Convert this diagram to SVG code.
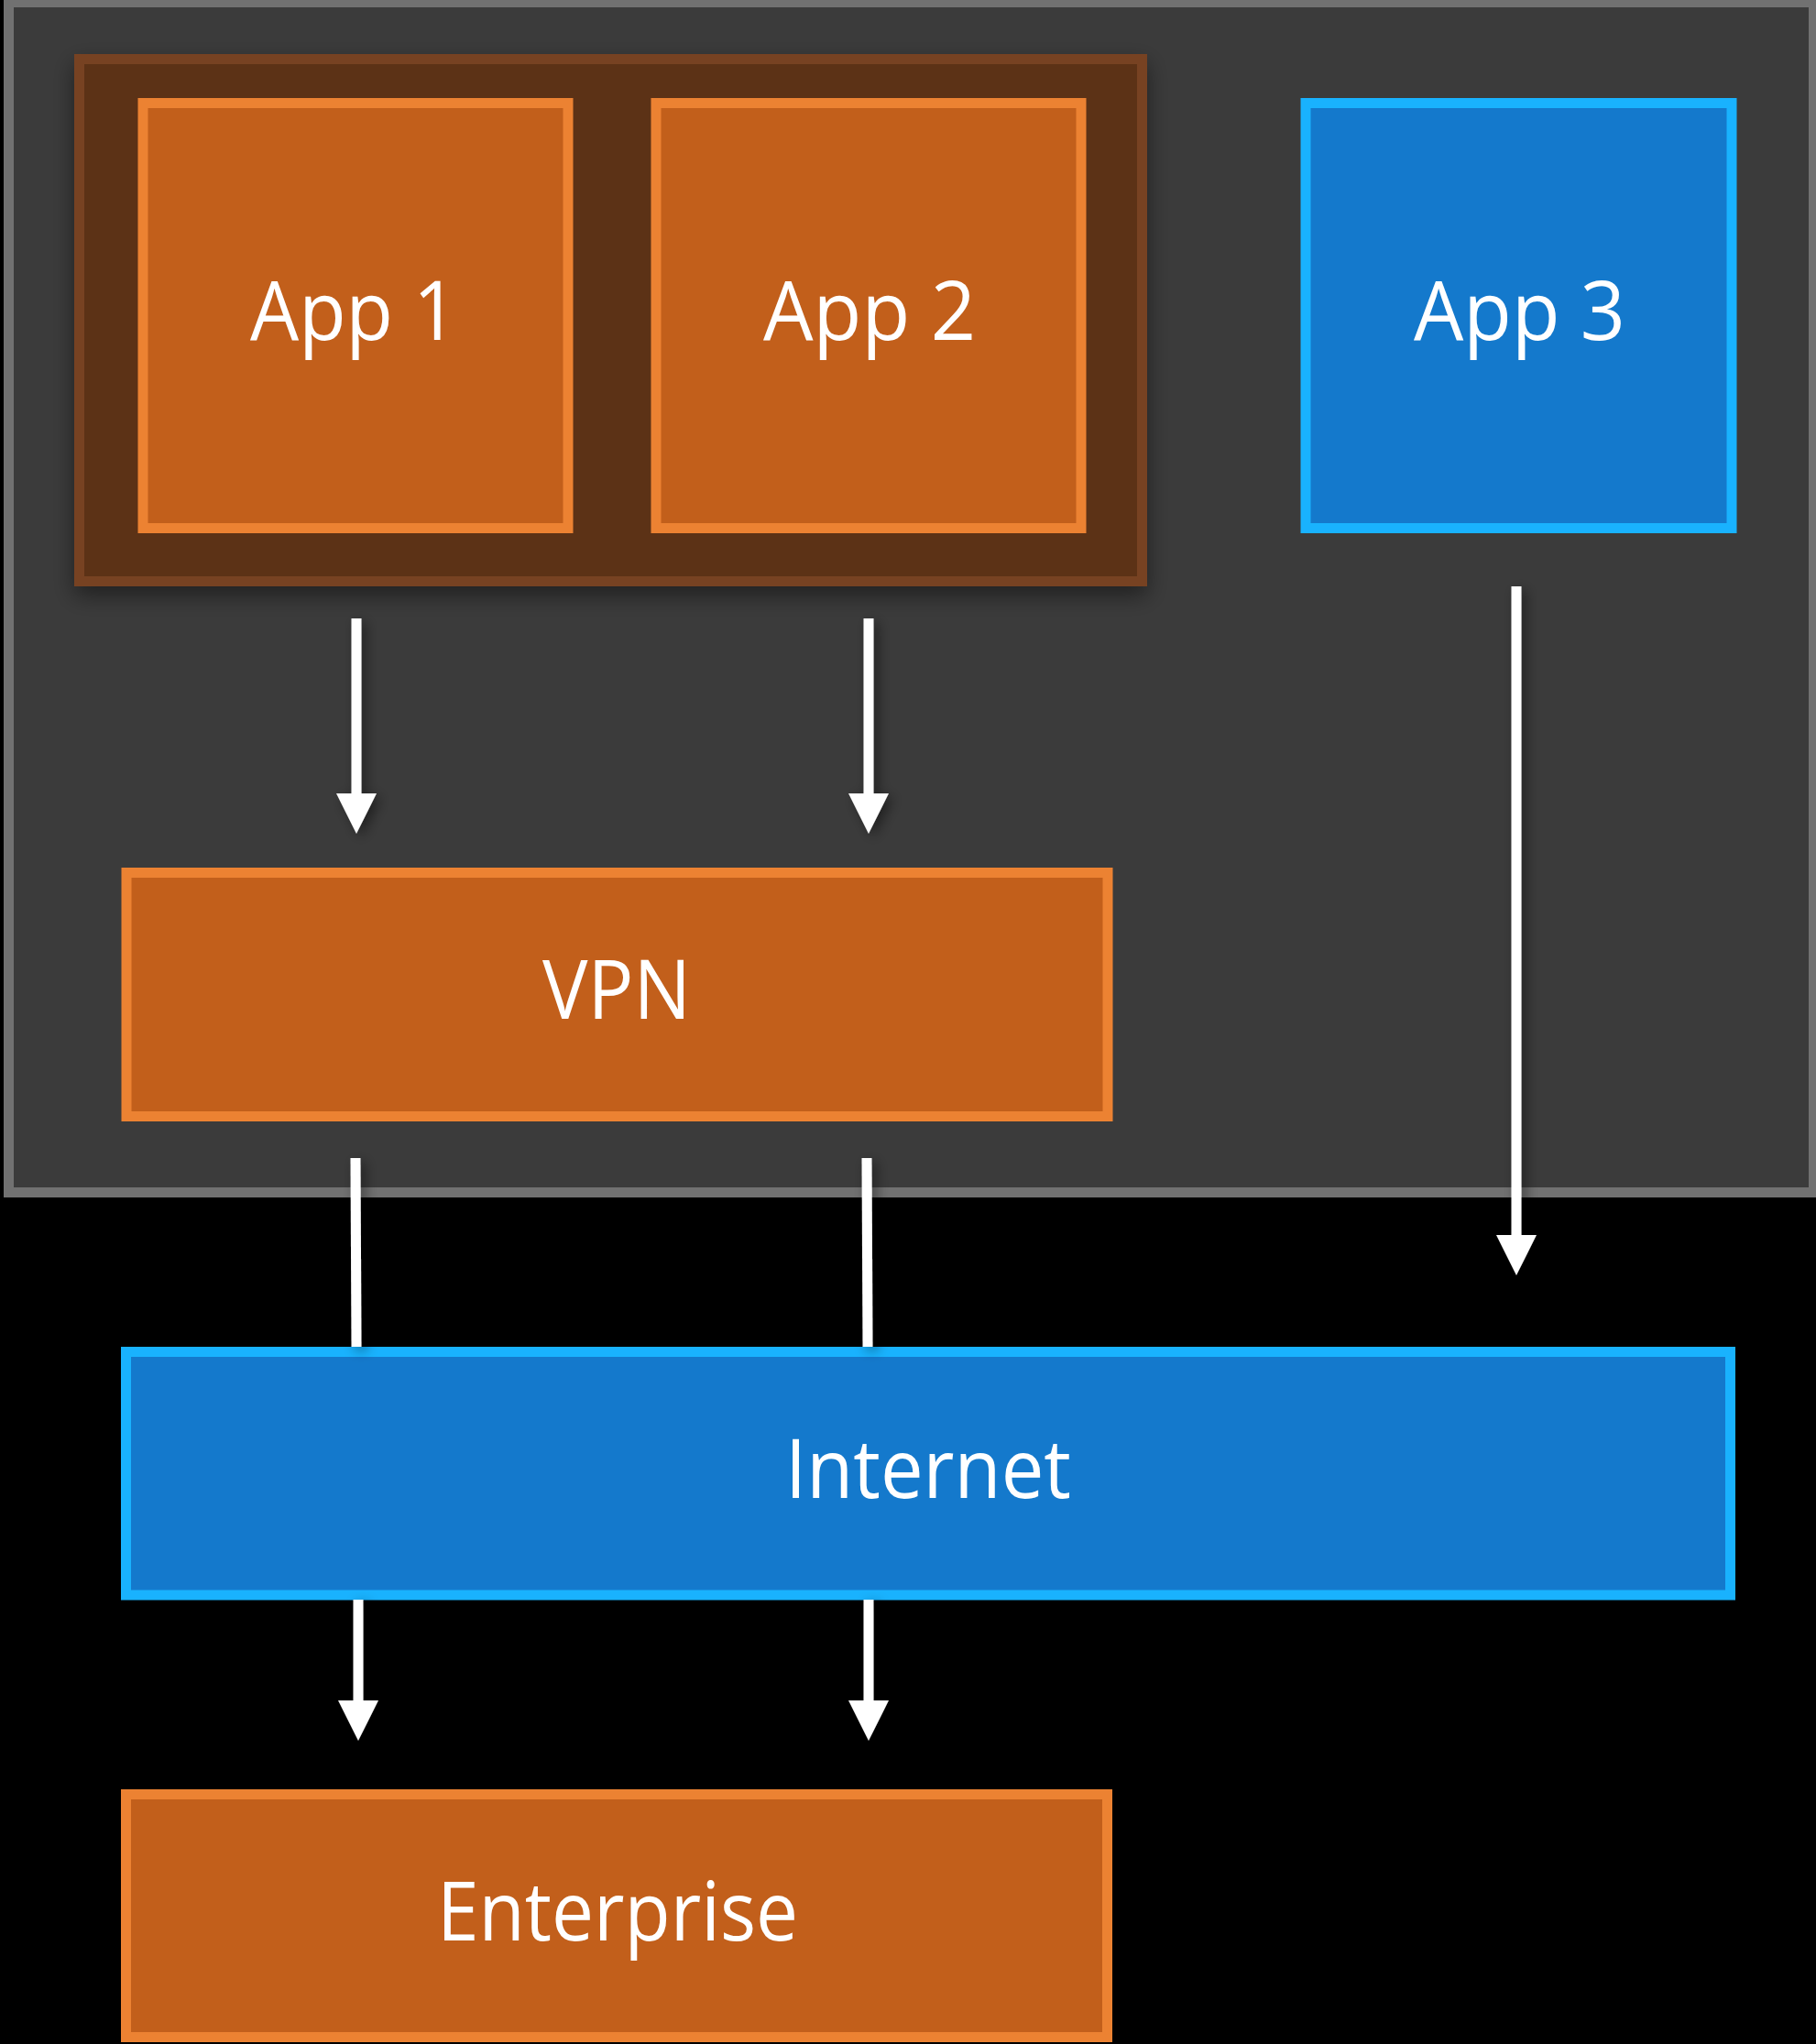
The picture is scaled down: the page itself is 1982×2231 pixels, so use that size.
<svg xmlns="http://www.w3.org/2000/svg" width="1982" height="2231" viewBox="0 0 1982 2231">
  <defs>
    <style>
      .orange { fill: #c25f1b; stroke: #ec8232; stroke-width: 11; }
      .blue { fill: #1479cc; stroke: #19b2fe; stroke-width: 11; }
      .label { font-family: "Open Sans", "Liberation Sans", sans-serif; font-weight: 400; font-size: 90px; fill: #ffffff; }
      .conn { stroke: #ffffff; stroke-width: 11; fill: none; }
    </style>
    <filter id="groupShadow" x="-10%" y="-10%" width="120%" height="130%">
      <feDropShadow dx="0" dy="10" stdDeviation="12" flood-color="#000000" flood-opacity="0.45"/>
    </filter>
    <filter id="arrowShadow" x="-200%" y="-10%" width="500%" height="120%">
      <feDropShadow dx="5" dy="4" stdDeviation="7" flood-color="#000000" flood-opacity="0.45"/>
    </filter>
    <marker id="head" viewBox="0 0 44 44" markerUnits="userSpaceOnUse" markerWidth="44" markerHeight="44" refX="2" refY="22" orient="auto">
      <path d="M0,0 L44,22 L0,44 Z" fill="#ffffff"/>
    </marker>
  </defs>

  <rect x="0" y="0" width="1982" height="2231" fill="#000000"/>

  <g id="device">
    <rect x="9.5" y="2.5" width="1970" height="1299" fill="#3b3b3b" stroke="#717171" stroke-width="11"/>
  </g>

  <g id="managed-apps" filter="url(#groupShadow)">
    <rect x="86.5" y="64.5" width="1160" height="570" fill="#5c3218" stroke="#774322" stroke-width="11"/>
  </g>

  <g id="app1">
    <rect class="orange" x="156" y="112.5" width="464" height="464" stroke-width="10"/>
    <text class="label" x="273" y="371" textLength="226" lengthAdjust="spacingAndGlyphs">App 1</text>
  </g>

  <g id="app2">
    <rect class="orange" x="716" y="112.5" width="464" height="464" stroke-width="10"/>
    <text class="label" x="833" y="371" textLength="232" lengthAdjust="spacingAndGlyphs">App 2</text>
  </g>

  <g id="app3">
    <rect class="blue" x="1425" y="112.5" width="465" height="464" stroke-width="10"/>
    <text class="label" x="1543" y="371" textLength="231" lengthAdjust="spacingAndGlyphs">App 3</text>
  </g>

  <g id="vpn">
    <rect class="orange" x="138" y="952.5" width="1071" height="266"/>
    <text class="label" x="592" y="1112" textLength="162" lengthAdjust="spacingAndGlyphs">VPN</text>
  </g>

  <g id="internet">
    <rect class="blue" x="137.5" y="1475.5" width="1751" height="265.5"/>
    <text class="label" x="857" y="1635" textLength="312" lengthAdjust="spacingAndGlyphs">Internet</text>
  </g>

  <g id="enterprise">
    <rect class="orange" x="137.5" y="1958.5" width="1071" height="265"/>
    <text class="label" x="477" y="2118" textLength="394" lengthAdjust="spacingAndGlyphs">Enterprise</text>
  </g>

  <g id="connectors" filter="url(#arrowShadow)">
    <line class="conn" x1="389" y1="675" x2="389" y2="868" marker-end="url(#head)"/>
    <line class="conn" x1="948" y1="675" x2="948" y2="868" marker-end="url(#head)"/>
    <line class="conn" x1="1655" y1="640" x2="1655" y2="1350" marker-end="url(#head)"/>
    <line class="conn" x1="388" y1="1264" x2="389" y2="1470"/>
    <line class="conn" x1="946" y1="1264" x2="947" y2="1470"/>
    <line class="conn" x1="391" y1="1746" x2="391" y2="1858" marker-end="url(#head)"/>
    <line class="conn" x1="948" y1="1746" x2="948" y2="1858" marker-end="url(#head)"/>
  </g>
</svg>
